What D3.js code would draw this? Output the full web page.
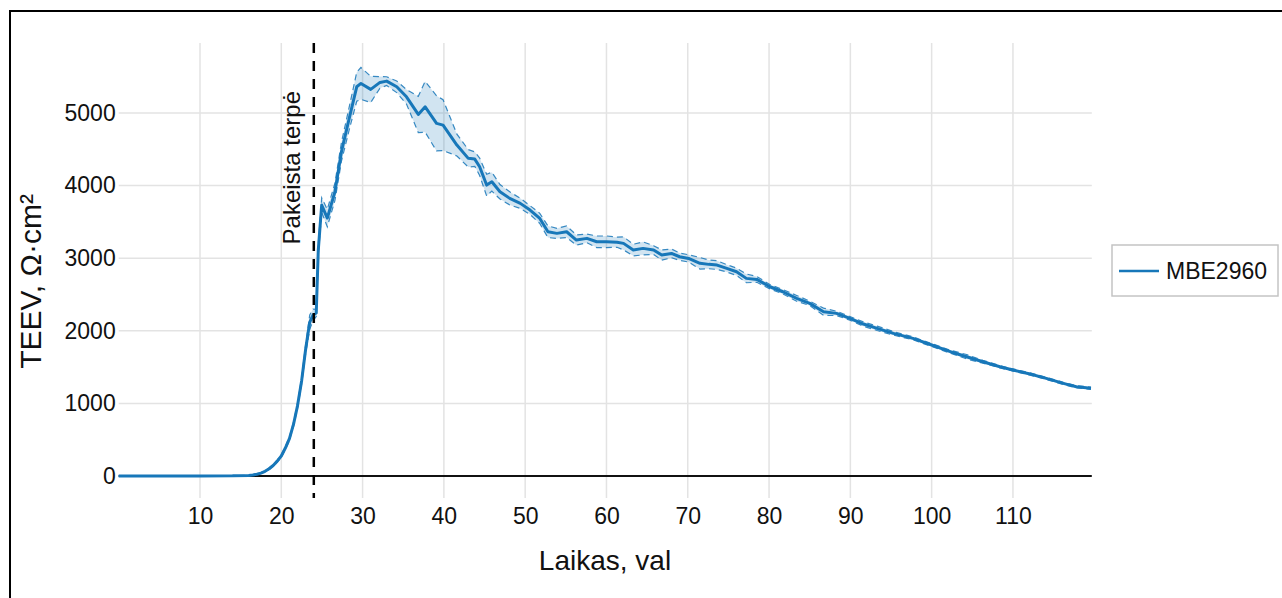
<!DOCTYPE html>
<html lang="lt">
<head>
  <meta charset="UTF-8">
  <title>TEEV MBE2960</title>
  <script src="https://d3js.org/d3.v7.min.js"></script>
  <style>
    body { margin: 0; background: #fff; }
    svg { display: block; font-family: "Liberation Sans", Arial, sans-serif; }
    .grid line { stroke: #e3e3e3; stroke-width: 1.5px; }
    .tick-lbl text { font-size: 23px; fill: #111; }
  </style>
</head>
<body>
  <div id="chart"></div>

  <script>
    // laikas, val
    const hours = [0, 5, 10, 14, 16, 16.5, 17, 17.5, 18, 18.5, 19, 19.5, 20, 20.5, 21, 21.5, 22, 22.5, 23, 23.5,
      23.9, 24.3, 24.35, 24.55,
      24.97, 25.66, 26.6, 27.4, 28.45, 29.28, 29.8, 31.0, 32.14, 32.96, 34.2, 35.4, 36.85, 37.7, 39.1, 39.9,
      41.6, 43.0, 43.8, 44.4, 45.26, 45.9, 46.9, 48.1, 49.4, 50.6, 51.8, 52.8, 53.9, 55.1, 56.3, 57.6, 58.8,
      60.0, 61.3, 62.1, 63.3, 64.5, 65.8, 66.8, 68.0, 69.0, 70.1, 71.5, 72.6, 73.6, 74.8, 76.0, 77.2, 78.5,
      80.1, 81.7, 83.4, 85.0, 86.7, 88.3, 89.95, 91.6, 93.3, 95.3, 97.7, 100, 102.3, 104.3, 106.3, 108.4,
      110.0, 112.1, 114.1, 116.2, 117.8, 119.6];
    // vidutinis TEEV
    const teev = [0, 0, 0, 2, 8, 14, 25, 40, 65, 100, 145, 205, 275, 385, 515, 710, 970, 1310, 1750, 2120,
      2217, 2245, 2424, 3112,
      3732, 3553, 3915, 4466, 4971, 5361, 5407, 5325, 5421, 5439, 5361, 5223, 4980, 5085, 4857, 4833,
      4558, 4375, 4365, 4259, 4007, 4053, 3915, 3824, 3755, 3663, 3548, 3364, 3342, 3364, 3250, 3273, 3226,
      3226, 3220, 3204, 3112, 3135, 3112, 3043, 3066, 3020, 2997, 2930, 2915, 2905, 2860, 2813, 2722, 2708,
      2607, 2538, 2447, 2378, 2263, 2240, 2171, 2093, 2034, 1965, 1896, 1804, 1712, 1643, 1574, 1505,
      1460, 1405, 1345, 1276, 1230, 1208];
    // standartinis nuokrypis
    const teevSd = [0, 0, 0, 0, 2, 3, 5, 6, 8, 10, 12, 15, 18, 20, 25, 30, 35, 45, 60, 100,
      80, 50, 60, 80,
      100, 120, 120, 130, 160, 200, 220, 180, 80, 60, 80, 100, 250, 350, 380, 350,
      150, 120, 100, 120, 150, 130, 100, 90, 70, 60, 70, 80, 70, 80, 70, 60, 80,
      80, 70, 90, 80, 90, 60, 70, 60, 50, 50, 80, 60, 60, 50, 50, 60, 40,
      30, 30, 40, 30, 50, 30, 25, 30, 30, 25, 20, 20, 20, 30, 20, 15,
      15, 15, 15, 15, 15, 15];

    const xTicks = [10, 20, 30, 40, 50, 60, 70, 80, 90, 100, 110];
    const yTicks = [0, 1000, 2000, 3000, 4000, 5000];
    const changeTime = 24;
    const seriesName = "MBE2960";

    const W = 1282, H = 598;
    const color = "#1777b9";

    const svg = d3.select("#chart").append("svg")
      .attr("width", W)
      .attr("height", H);

    // outer frame
    svg.append("rect")
      .attr("x", 10).attr("y", 11)
      .attr("width", W + 20).attr("height", H + 20)
      .attr("fill", "none")
      .attr("stroke", "#000")
      .attr("stroke-width", 2);

    const x = d3.scaleLinear().domain([0, 119.7]).range([118.7, 1091.8]);
    const y = d3.scaleLinear().domain([-303, 5964]).range([498, 43]);

    const data = hours.map((h, i) => ({ h, m: teev[i], sd: teevSd[i] }));

    // grid
    const grid = svg.append("g").attr("class", "grid");
    grid.selectAll(".vg").data(xTicks).enter().append("line")
      .attr("x1", d => x(d)).attr("x2", d => x(d))
      .attr("y1", y.range()[1]).attr("y2", y.range()[0]);
    grid.selectAll(".hg").data(yTicks.filter(d => d > 0)).enter().append("line")
      .attr("x1", x.range()[0]).attr("x2", x.range()[1])
      .attr("y1", d => y(d)).attr("y2", d => y(d));

    // zero line
    svg.append("line")
      .attr("x1", x.range()[0]).attr("x2", x.range()[1])
      .attr("y1", y(0)).attr("y2", y(0))
      .attr("stroke", "#111").attr("stroke-width", 2);

    // axes (labels only)
    const xAxis = svg.append("g")
      .attr("class", "tick-lbl")
      .attr("transform", `translate(0,${y.range()[0]})`)
      .call(d3.axisBottom(x).tickValues(xTicks).tickSize(0).tickPadding(10));
    xAxis.select(".domain").remove();

    const yAxis = svg.append("g")
      .attr("class", "tick-lbl")
      .attr("transform", `translate(${x.range()[0]},0)`)
      .call(d3.axisLeft(y).tickValues(yTicks).tickFormat(d3.format("d")).tickSize(0).tickPadding(3));
    yAxis.select(".domain").remove();
    svg.selectAll(".tick-lbl").attr("font-family", null).attr("font-size", null);

    // std band
    const band = d3.area()
      .x(d => x(d.h))
      .y0(d => y(d.m - d.sd))
      .y1(d => y(d.m + d.sd));
    svg.append("path")
      .datum(data)
      .attr("d", band)
      .attr("fill", color)
      .attr("fill-opacity", 0.2);

    [1, -1].forEach(s => {
      svg.append("path")
        .datum(data)
        .attr("d", d3.line().x(d => x(d.h)).y(d => y(d.m + s * d.sd)))
        .attr("fill", "none")
        .attr("stroke", color)
        .attr("stroke-width", 1.2)
        .attr("stroke-opacity", 0.85)
        .attr("stroke-dasharray", "6,4");
    });

    // mean line
    svg.append("path")
      .datum(data)
      .attr("d", d3.line().x(d => x(d.h)).y(d => y(d.m)))
      .attr("fill", "none")
      .attr("stroke", color)
      .attr("stroke-width", 3)
      .attr("stroke-linejoin", "round");

    // medium change marker
    svg.append("line")
      .attr("x1", x(changeTime)).attr("x2", x(changeTime))
      .attr("y1", y.range()[1]).attr("y2", y.range()[0])
      .attr("stroke", "#000")
      .attr("stroke-width", 2.5)
      .attr("stroke-dasharray", "10,8");

    svg.append("text")
      .attr("transform", `translate(${x(changeTime) - 14},91) rotate(-90)`)
      .attr("text-anchor", "end")
      .attr("font-size", 24)
      .attr("fill", "#111")
      .text("Pakeista terpė");

    // axis titles
    svg.append("text")
      .attr("x", 605).attr("y", 570)
      .attr("text-anchor", "middle")
      .attr("font-size", 28)
      .attr("fill", "#111")
      .text("Laikas, val");

    svg.append("text")
      .attr("transform", `translate(41,${y(2680)}) rotate(-90)`)
      .attr("text-anchor", "middle")
      .attr("font-size", 30)
      .attr("fill", "#111")
      .text("TEEV, Ω·cm²");

    // legend
    const lg = svg.append("g").attr("transform", "translate(1112,245)");
    lg.append("rect")
      .attr("width", 166).attr("height", 51)
      .attr("fill", "#fff")
      .attr("stroke", "#c4c4c4")
      .attr("stroke-width", 1.5);
    lg.append("line")
      .attr("x1", 7).attr("x2", 47)
      .attr("y1", 26).attr("y2", 26)
      .attr("stroke", color)
      .attr("stroke-width", 2.5);
    lg.append("text")
      .attr("x", 54).attr("y", 34)
      .attr("font-size", 23)
      .attr("fill", "#111")
      .text(seriesName);
  </script>
</body>
</html>
